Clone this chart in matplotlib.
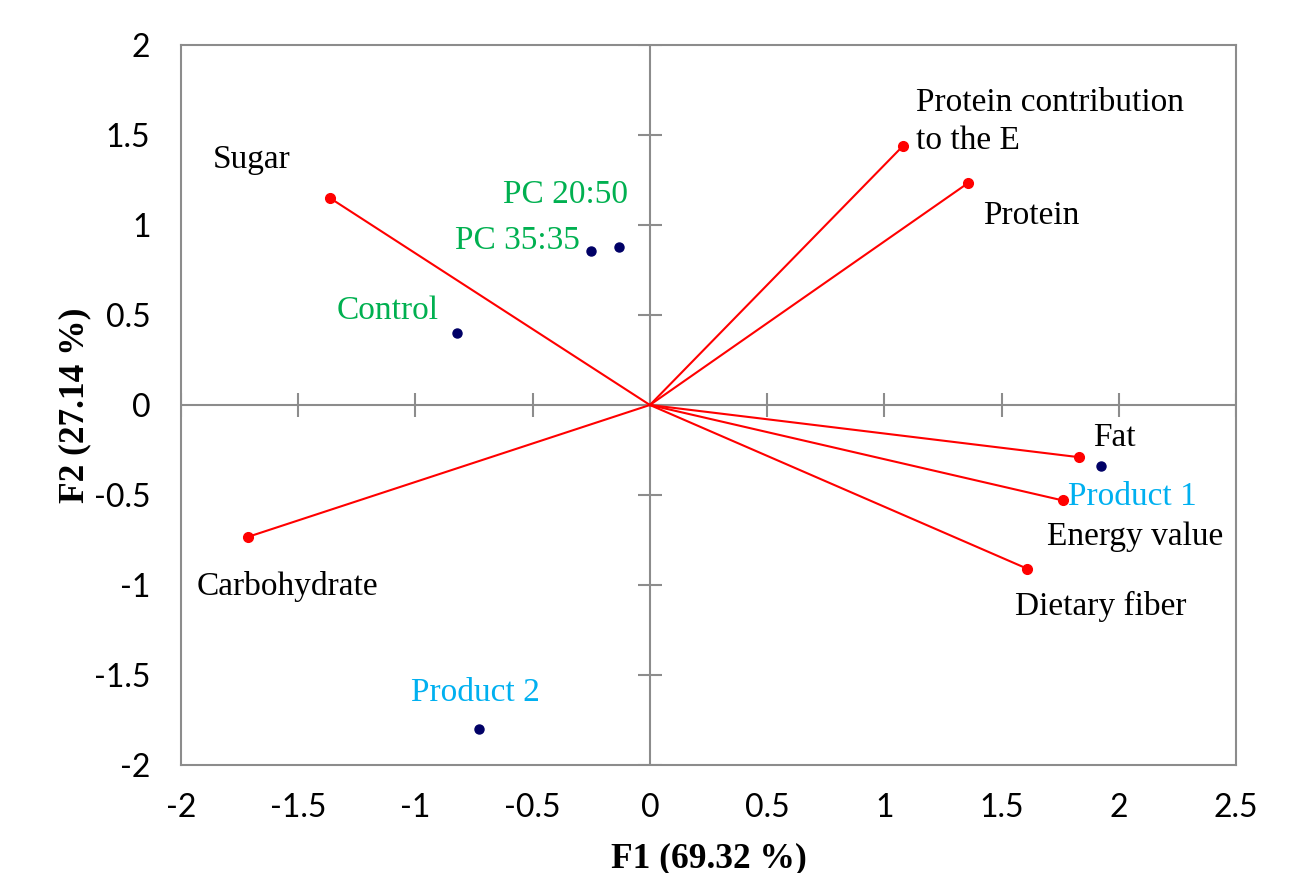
import numpy as np
from matplotlib import pyplot as plt

# variables (red vectors)
var_names = ['Sugar', 'Protein contribution\nto the E', 'Protein', 'Fat',
             'Energy value', 'Dietary fiber', 'Carbohydrate']
var_x = [-1.365, 1.08, 1.357, 1.83, 1.76, 1.61, -1.715]
var_y = [1.15, 1.44, 1.233, -0.29, -0.53, -0.91, -0.733]
var_lab_x = [-1.864, 1.135, 1.42, 1.89, 1.694, 1.557, -1.933]
var_lab_y = [1.36, 1.572, 1.05, -0.183, -0.733, -1.122, -1.011]

# observations (navy dots)
obs_names = ['PC 20:50', 'PC 35:35', 'Control', 'Product 1', 'Product 2']
obs_x = [-0.132, -0.252, -0.823, 1.924, -0.73]
obs_y = [0.878, 0.856, 0.40, -0.339, -1.80]
obs_lab_x = [-0.627, -0.832, -1.335, 1.783, -1.02]
obs_lab_y = [1.167, 0.911, 0.522, -0.511, -1.60]
obs_colors = ['#00B050', '#00B050', '#00B050', '#00B0F0', '#00B0F0']

xticks = np.arange(-2, 2.51, 0.5)
yticks = np.arange(-2, 2.01, 0.5)

def fmt(v):
    return '0' if abs(v) < 1e-9 else ('%g' % v)

fig = plt.figure(figsize=(13.04, 8.73), dpi=100)
ax = fig.add_axes([0.1388, 0.1237, 0.8091, 0.8248])
ax.set_xlim(-2, 2.5)
ax.set_ylim(-2, 2)

gray = '#8c8c8c'
for s in ax.spines.values():
    s.set_color(gray)
    s.set_linewidth(1.5)

# zero lines with their own tick marks
ax.axhline(0, color=gray, lw=1.5, zorder=1)
ax.axvline(0, color=gray, lw=1.5, zorder=1)
ax.plot(xticks, np.zeros_like(xticks), ls='none', marker='|', ms=17, mew=1.5, color=gray, zorder=1)
ax.plot(np.zeros_like(yticks), yticks, ls='none', marker='_', ms=17, mew=1.5, color=gray, zorder=1)

ax.set_xticks(xticks)
ax.set_yticks(yticks)
ax.set_xticklabels([fmt(v) for v in xticks], family='Lato', fontsize=23)
ax.set_yticklabels([fmt(v) for v in yticks], family='Lato', fontsize=23)
ax.tick_params(axis='x', length=0, pad=20)
ax.tick_params(axis='y', length=0, pad=22)

# vectors
for x, y in zip(var_x, var_y):
    ax.plot([0, x], [0, y], color='red', lw=1.5, zorder=2)
ax.plot(var_x, var_y, ls='none', marker='o', ms=7, color='red', zorder=3)
for name, lx, ly in zip(var_names, var_lab_x, var_lab_y):
    ax.text(lx, ly, name, family='Liberation Serif', fontsize=24, color='black',
            ha='left', va='center', linespacing=1.3)

# observations
ax.plot(obs_x, obs_y, ls='none', marker='o', ms=6.5, color='#000066', zorder=3)
for name, lx, ly, c in zip(obs_names, obs_lab_x, obs_lab_y, obs_colors):
    ax.text(lx, ly, name, family='Liberation Serif', fontsize=24, color=c,
            ha='left', va='center')

ax.set_xlabel('F1 (69.32 %)', family='Liberation Serif', fontsize=25.5, fontweight='bold', labelpad=14)
ax.set_ylabel('F2 (27.14 %)', family='Liberation Serif', fontsize=25.5, fontweight='bold', labelpad=2)

fig.savefig('out.png', dpi=100)
